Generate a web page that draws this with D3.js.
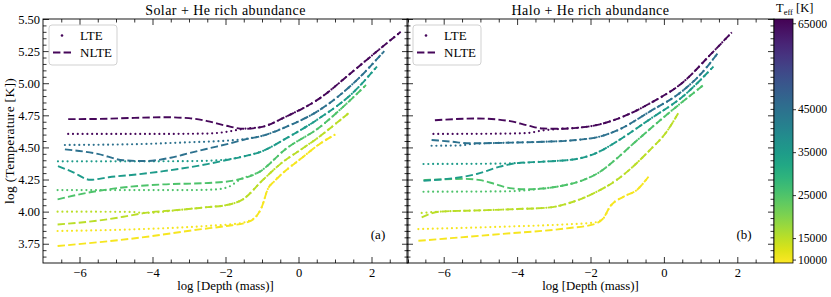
<!DOCTYPE html>
<html><head><meta charset="utf-8">
<script src="https://cdn.jsdelivr.net/npm/d3@7"></script>
<style>
body{margin:0;background:#fff;}
svg text{font-family:"Liberation Serif","Times New Roman",serif;fill:#000;}
</style></head><body>
<svg id="c" width="831" height="297"></svg>
<script>
// ---------- data ----------
const teffs = [65000, 45000, 35000, 25000, 15000, 10000];
const xTicks = [-6, -4, -2, 0, 2];
const yTicks = [3.75, 4.00, 4.25, 4.50, 4.75, 5.00, 5.25, 5.50];
const cbTicks = [10000, 15000, 25000, 35000, 45000, 65000];
const panelTitles = ["Solar + He rich abundance", "Halo + He rich abundance"];
const panelTags = ["(a)", "(b)"];
const legendLabels = ["LTE", "NLTE"];

// Solar panel  [log depth, log T]
const s_nlte_65000 = [[-6.31,4.72],[-5.5,4.722],[-4.5,4.73],[-3.7,4.735],[-3.0,4.728],[-2.5,4.705],[-2.0,4.67],[-1.5,4.645],[-1.0,4.66],[-0.34,4.74],[0.57,4.88],[1.48,5.09],[2.2,5.26],[2.8,5.40]];
const s_lte_65000  = [[-6.31,4.605],[-4.0,4.605],[-2.5,4.608],[-2.0,4.62],[-1.5,4.645],[-1.0,4.66],[-0.34,4.74],[0.57,4.88],[1.48,5.09],[2.2,5.26],[2.8,5.40]];
const s_nlte_45000 = [[-6.4,4.485],[-5.5,4.45],[-4.8,4.40],[-4.2,4.394],[-3.5,4.42],[-3.0,4.455],[-2.5,4.49],[-1.9,4.53],[-1.5,4.56],[-1.0,4.59],[-0.34,4.66],[0.57,4.79],[1.47,4.99],[2.35,5.25]];
const s_lte_45000  = [[-6.4,4.519],[-4.5,4.525],[-3.0,4.54],[-2.0,4.552],[-1.5,4.565],[-1.0,4.59],[-0.34,4.66],[0.57,4.79],[1.47,4.99],[2.35,5.25]];
const s_nlte_35000 = [[-6.59,4.355],[-6.2,4.31],[-5.7,4.248],[-5.2,4.268],[-4.35,4.292],[-3.7,4.315],[-3.0,4.345],[-2.5,4.37],[-2.0,4.40],[-1.5,4.43],[-1.0,4.47],[-0.34,4.57],[0.57,4.727],[1.47,4.92],[2.15,5.13]];
const s_lte_35000  = [[-6.59,4.392],[-4.0,4.392],[-2.8,4.394],[-2.0,4.405],[-1.5,4.43],[-1.0,4.47],[-0.34,4.57],[0.57,4.727],[1.47,4.92],[2.15,5.13]];
const s_nlte_25000 = [[-6.6,4.096],[-5.63,4.155],[-4.62,4.194],[-3.72,4.212],[-2.35,4.225],[-1.71,4.246],[-1.07,4.31],[-0.34,4.49],[0.57,4.655],[1.2,4.81],[1.85,4.986]];
const s_lte_25000  = [[-6.6,4.168],[-3.0,4.168],[-2.3,4.172],[-1.9,4.195],[-1.6,4.25],[-1.07,4.31],[-0.34,4.49],[0.57,4.655],[1.2,4.81],[1.85,4.986]];
const s_nlte_15000 = [[-6.6,3.90],[-5.5,3.93],[-4.8,3.96],[-4.2,3.99],[-3.2,4.015],[-2.5,4.035],[-2.0,4.05],[-1.5,4.10],[-1.0,4.24],[-0.5,4.37],[0.1,4.49],[0.57,4.583],[1.0,4.68],[1.37,4.766]];
const s_lte_15000  = [[-6.6,4.0],[-4.6,3.998],[-4.2,3.99],[-3.2,4.015],[-2.5,4.035],[-2.0,4.05],[-1.5,4.10],[-1.0,4.24],[-0.5,4.37],[0.1,4.49],[0.57,4.583],[1.0,4.68],[1.37,4.766]];
const s_nlte_10000 = [[-6.6,3.732],[-4.35,3.797],[-2.71,3.862],[-1.98,3.888],[-1.4,3.918],[-1.2,3.95],[-1.0,4.04],[-0.85,4.17],[-0.65,4.24],[-0.43,4.30],[0.1,4.42],[0.57,4.525],[1.0,4.60]];
const s_lte_10000  = [[-6.6,3.849],[-4.5,3.862],[-2.53,3.888],[-1.62,3.909],[-1.3,3.935],[-1.2,3.95],[-1.0,4.04],[-0.85,4.17],[-0.65,4.24],[-0.43,4.30],[0.1,4.42],[0.57,4.525],[1.0,4.60]];

// Halo panel
const h_nlte_65000 = [[-6.24,4.712],[-5.1,4.725],[-4.19,4.705],[-3.7,4.67],[-3.29,4.647],[-2.8,4.645],[-2.38,4.652],[-1.74,4.68],[-1.29,4.72],[-0.38,4.843],[0.53,5.01],[1.26,5.22],[1.85,5.396]];
const h_lte_65000  = [[-6.28,4.605],[-4.5,4.607],[-3.74,4.612],[-3.3,4.632],[-2.8,4.645],[-2.38,4.652],[-1.74,4.68],[-1.29,4.72],[-0.38,4.843],[0.53,5.01],[1.26,5.22],[1.85,5.396]];
const h_nlte_45000 = [[-6.33,4.558],[-5.8,4.545],[-5.28,4.532],[-4.19,4.537],[-3.29,4.544],[-2.38,4.558],[-1.74,4.585],[-1.29,4.63],[-0.38,4.78],[0.53,4.945],[1.0,5.07],[1.48,5.238]];
const h_lte_45000  = [[-6.33,4.513],[-5.6,4.515],[-5.2,4.527],[-4.19,4.537],[-3.29,4.544],[-2.38,4.558],[-1.74,4.585],[-1.29,4.63],[-0.38,4.78],[0.53,4.945],[1.0,5.07],[1.48,5.238]];
const h_nlte_35000 = [[-6.55,4.241],[-6.0,4.252],[-5.1,4.293],[-4.47,4.35],[-4.0,4.378],[-3.29,4.389],[-2.38,4.41],[-1.74,4.47],[-1.29,4.545],[-0.38,4.72],[0.53,4.90],[1.35,5.13]];
const h_lte_35000  = [[-6.55,4.371],[-4.4,4.374],[-4.0,4.378],[-3.29,4.389],[-2.38,4.41],[-1.74,4.47],[-1.29,4.545],[-0.38,4.72],[0.53,4.90],[1.35,5.13]];
const h_nlte_25000 = [[-6.55,4.245],[-6.0,4.252],[-5.4,4.255],[-5.0,4.245],[-4.6,4.215],[-4.2,4.183],[-3.8,4.174],[-3.3,4.18],[-2.8,4.2],[-2.2,4.246],[-1.74,4.31],[-1.3,4.41],[-0.83,4.53],[0.1,4.76],[1.08,4.986]];
const h_lte_25000  = [[-6.55,4.155],[-4.3,4.158],[-3.8,4.165],[-3.3,4.18],[-2.8,4.2],[-2.2,4.246],[-1.74,4.31],[-1.3,4.41],[-0.83,4.53],[0.1,4.76],[1.08,4.986]];
const h_nlte_15000 = [[-6.6,3.956],[-6.1,4.0],[-5.0,4.01],[-4.0,4.02],[-3.1,4.033],[-2.47,4.077],[-1.92,4.142],[-1.29,4.246],[-0.38,4.48],[0.07,4.62],[0.39,4.766]];
const h_lte_15000  = [[-6.6,3.99],[-6.1,4.0],[-5.0,4.01],[-4.0,4.02],[-3.1,4.033],[-2.47,4.077],[-1.92,4.142],[-1.29,4.246],[-0.38,4.48],[0.07,4.62],[0.39,4.766]];
const h_nlte_10000 = [[-6.69,3.773],[-4.47,3.825],[-2.65,3.87],[-1.92,3.901],[-1.65,3.948],[-1.47,4.038],[-1.1,4.116],[-0.74,4.168],[-0.42,4.272]];
const h_lte_10000  = [[-6.69,3.864],[-4.47,3.882],[-2.65,3.901],[-1.92,3.914],[-1.65,3.948],[-1.47,4.038],[-1.1,4.116],[-0.74,4.168],[-0.42,4.272]];

const panels = [
  {title: panelTitles[0], tag: panelTags[0], curves: [
    {teff: teffs[0], nlte: s_nlte_65000, lte: s_lte_65000},
    {teff: teffs[1], nlte: s_nlte_45000, lte: s_lte_45000},
    {teff: teffs[2], nlte: s_nlte_35000, lte: s_lte_35000},
    {teff: teffs[3], nlte: s_nlte_25000, lte: s_lte_25000},
    {teff: teffs[4], nlte: s_nlte_15000, lte: s_lte_15000},
    {teff: teffs[5], nlte: s_nlte_10000, lte: s_lte_10000}]},
  {title: panelTitles[1], tag: panelTags[1], curves: [
    {teff: teffs[0], nlte: h_nlte_65000, lte: h_lte_65000},
    {teff: teffs[1], nlte: h_nlte_45000, lte: h_lte_45000},
    {teff: teffs[2], nlte: h_nlte_35000, lte: h_lte_35000},
    {teff: teffs[3], nlte: h_nlte_25000, lte: h_lte_25000},
    {teff: teffs[4], nlte: h_nlte_15000, lte: h_lte_15000},
    {teff: teffs[5], nlte: h_nlte_10000, lte: h_lte_10000}]}
];

// ---------- layout ----------
const svg = d3.select("#c");
const yTop = 19, yBot = 263;
const panelX = [[43, 408], [407, 774]];
const cbX = [774, 793];
const yDomain = [3.60, 5.50];
const xDomain = [-7, 3];
const teffDomain = [9200, 66000];

const y = d3.scaleLinear().domain(yDomain).range([yBot, yTop]);
const cNorm = d3.scaleLinear().domain(teffDomain).range([1, 0]).clamp(true);
const color = t => d3.interpolateViridis(cNorm(t));

const xMinor = d3.range(-6.5, 3.01, 0.5).filter(v => Math.abs(v % 2) > 1e-6);
const yMinor = d3.range(3.65, 5.501, 0.05).filter(v => !yTicks.some(t => Math.abs(t - v) < 1e-6));

panels.forEach((p, i) => {
  const x = d3.scaleLinear().domain(xDomain).range(panelX[i]);
  const g = svg.append("g");
  const clipId = "clip" + i;
  svg.append("clipPath").attr("id", clipId).append("rect")
    .attr("x", panelX[i][0]).attr("y", yTop).attr("width", panelX[i][1] - panelX[i][0]).attr("height", yBot - yTop);

  const line = d3.line().x(d => x(d[0])).y(d => y(d[1])).curve(d3.curveMonotoneX);
  const cg = g.append("g").attr("clip-path", `url(#${clipId})`);
  p.curves.slice().reverse().forEach(c => {
    cg.append("path").attr("d", line(c.lte)).attr("fill", "none")
      .attr("stroke", color(c.teff)).attr("stroke-width", 2.2)
      .attr("stroke-linecap", "round").attr("stroke-dasharray", "0 4.8");
    cg.append("path").attr("d", line(c.nlte)).attr("fill", "none")
      .attr("stroke", color(c.teff)).attr("stroke-width", 1.9)
      .attr("stroke-dasharray", "7.4 3.2");
  });

  // axes
  const fmtX = d3.format("d");
  const ax = (gen, sel) => { sel.call(gen); sel.select(".domain").remove(); sel.selectAll("line").attr("stroke", "#000").attr("stroke-width", 0.8); };
  ax(d3.axisBottom(x).tickValues(xTicks).tickSize(-6).tickPadding(5.5).tickFormat(fmtX), g.append("g").attr("transform", `translate(0,${yBot})`));
  ax(d3.axisBottom(x).tickValues(xMinor).tickSize(-3.5).tickFormat(""), g.append("g").attr("transform", `translate(0,${yBot})`));
  ax(d3.axisTop(x).tickValues(xTicks).tickSize(-6).tickFormat(""), g.append("g").attr("transform", `translate(0,${yTop})`));
  ax(d3.axisTop(x).tickValues(xMinor).tickSize(-3.5).tickFormat(""), g.append("g").attr("transform", `translate(0,${yTop})`));
  const yl = g.append("g").attr("transform", `translate(${panelX[i][0]},0)`);
  ax(d3.axisLeft(y).tickValues(yTicks).tickSize(-6).tickPadding(3).tickFormat(i === 0 ? d3.format(".2f") : ""), yl);
  ax(d3.axisLeft(y).tickValues(yMinor).tickSize(-3.5).tickFormat(""), g.append("g").attr("transform", `translate(${panelX[i][0]},0)`));
  ax(d3.axisRight(y).tickValues(yTicks).tickSize(-6).tickFormat(""), g.append("g").attr("transform", `translate(${panelX[i][1]},0)`));
  ax(d3.axisRight(y).tickValues(yMinor).tickSize(-3.5).tickFormat(""), g.append("g").attr("transform", `translate(${panelX[i][1]},0)`));
  g.selectAll(".tick text").attr("font-family", null).attr("font-size", 12.5);

  g.append("rect").attr("x", panelX[i][0]).attr("y", yTop)
    .attr("width", panelX[i][1] - panelX[i][0]).attr("height", yBot - yTop)
    .attr("fill", "none").attr("stroke", "#000").attr("stroke-width", 0.9);

  const cx = (panelX[i][0] + panelX[i][1]) / 2;
  g.append("text").attr("x", cx).attr("y", 15).attr("text-anchor", "middle").attr("font-size", 14)
    .attr("letter-spacing", 0.45).text(p.title);
  g.append("text").attr("x", cx).attr("y", 290).attr("text-anchor", "middle").attr("font-size", 12.8).text("log [Depth (mass)]");
  g.append("text").attr("x", panelX[i][1] - 30).attr("y", 239).attr("text-anchor", "middle").attr("font-size", 13).text(p.tag);

  // legend
  const lx = panelX[i][0] + 6, ly = 25;
  const lg = g.append("g");
  lg.append("rect").attr("x", lx).attr("y", ly).attr("width", 68).attr("height", 40).attr("rx", 3)
    .attr("fill", "#fff").attr("fill-opacity", 0.8).attr("stroke", "#cccccc").attr("stroke-width", 0.9);
  lg.append("circle").attr("cx", lx + 13).attr("cy", ly + 10.5).attr("r", 1.3).attr("fill", color(teffs[0]));
  lg.append("line").attr("x1", lx + 4).attr("x2", lx + 22).attr("y1", ly + 27.5).attr("y2", ly + 27.5)
    .attr("stroke", color(teffs[0])).attr("stroke-width", 1.9).attr("stroke-dasharray", "7.4 3.2");
  lg.append("text").attr("x", lx + 31).attr("y", ly + 14.5).attr("font-size", 13).text(legendLabels[0]);
  lg.append("text").attr("x", lx + 31).attr("y", ly + 32).attr("font-size", 13).text(legendLabels[1]);
});

// y label
svg.append("text").attr("transform", `translate(14,${(yTop + yBot) / 2}) rotate(-90)`)
  .attr("text-anchor", "middle").attr("font-size", 13.5).attr("letter-spacing", 0.3).text("log (Temperature [K])");

// colorbar
const cb = d3.scaleLinear().domain(teffDomain).range([yBot, yTop]);
const defs = svg.append("defs");
const grad = defs.append("linearGradient").attr("id", "vgrad").attr("x1", 0).attr("y1", 1).attr("x2", 0).attr("y2", 0);
d3.range(0, 1.0001, 0.05).forEach(s => grad.append("stop").attr("offset", s).attr("stop-color", d3.interpolateViridis(1 - s)));
svg.append("rect").attr("x", cbX[0]).attr("y", yTop).attr("width", cbX[1] - cbX[0]).attr("height", yBot - yTop)
  .attr("fill", "url(#vgrad)").attr("stroke", "#000").attr("stroke-width", 0.8);
const cbAx = svg.append("g").attr("transform", `translate(${cbX[1]},0)`)
  .call(d3.axisRight(cb).tickValues(cbTicks).tickSize(3).tickPadding(2).tickFormat(d3.format("d")));
cbAx.select(".domain").remove();
cbAx.selectAll("line").attr("stroke", "#000").attr("stroke-width", 0.8);
cbAx.selectAll("text").attr("font-family", null).attr("font-size", 11.6);
const ct = svg.append("text").attr("x", 776).attr("y", 12).attr("font-size", 12.5);
ct.append("tspan").text("T");
ct.append("tspan").attr("dy", 2.5).attr("font-size", 8.5).text("eff");
ct.append("tspan").attr("dy", -2.5).text(" [K]");
</script>
</body></html>
